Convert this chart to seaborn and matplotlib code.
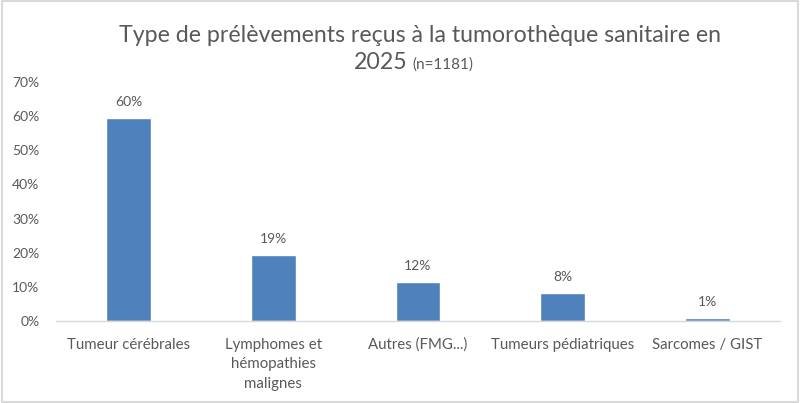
import seaborn as sns
import matplotlib.pyplot as plt
from matplotlib.patches import Rectangle
from matplotlib.ticker import PercentFormatter

# données (en %)
categories = [
    'Tumeur cérébrales',
    'Lymphomes et\nhémopathies\nmalignes',
    'Autres (FMG...)',
    'Tumeurs pédiatriques',
    'Sarcomes / GIST',
]
pourcentages = [59.5, 19.4, 11.5, 8.2, 0.9]
yticks = [0, 10, 20, 30, 40, 50, 60, 70]

gris = '#595959'
bleu = '#4F81BD'

sns.set_style('white')
plt.rcParams['font.family'] = ['Lato', 'DejaVu Sans']

fig = plt.figure(figsize=(8, 4.03), dpi=100)
ax = fig.add_axes([0.07, 0.2035, 0.905, 0.593])

sns.barplot(x=categories, y=pourcentages, color=bleu, saturation=1, width=0.31, ax=ax)

ax.set_ylim(0, 70)
ax.set_yticks(yticks)
ax.yaxis.set_major_formatter(PercentFormatter(decimals=0))
ax.set_xlim(-0.5, len(categories) - 0.5)
ax.set_xlabel('')
ax.set_ylabel('')

ax.bar_label(ax.containers[0], labels=[f'{v:.0f}%' for v in pourcentages],
             padding=7, color=gris, fontsize=10)

for s in ['top', 'right', 'left']:
    ax.spines[s].set_visible(False)
ax.spines['bottom'].set_color('#D9D9D9')
ax.spines['bottom'].set_linewidth(1)
ax.tick_params(axis='both', length=0, colors=gris, labelsize=10)
ax.tick_params(axis='x', pad=12, labelsize=10.8)
ax.tick_params(axis='y', pad=12)
for lab in ax.get_xticklabels():
    lab.set_linespacing(1.5)

# titre en deux morceaux (taille différente pour n)
fig.text(0.525, 0.895, 'Type de prélèvements reçus à la tumorothèque sanitaire en',
         ha='center', va='baseline', fontsize=16.7, color=gris)
fig.text(0.509, 0.83, '2025', ha='right', va='baseline', fontsize=16.7, color=gris)
fig.text(0.516, 0.83, '(n=1181)', ha='left', va='baseline', fontsize=11, color=gris)

# cadre autour de l'image
fig.patches.append(Rectangle((0.002, 0.003), 0.996, 0.994, transform=fig.transFigure,
                             fill=False, edgecolor='#D9D9D9', linewidth=1.5))

plt.savefig('out.png', dpi=100)
